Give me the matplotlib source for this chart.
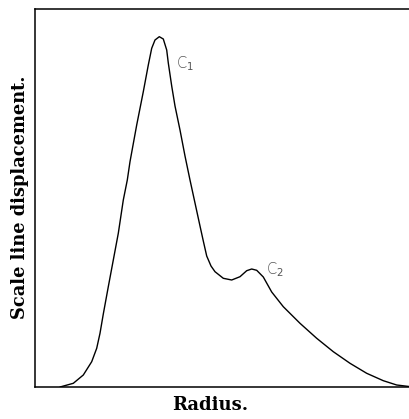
import matplotlib
matplotlib.use("Agg")
import matplotlib.pyplot as plt

# Radius (arbitrary units) and scale line displacement (arbitrary units)
radius = [25, 38.3, 48.3, 56.7, 61.7, 65, 68.3, 73.3, 78.3, 83.3, 88.3, 92.3, 95,
          101.7, 108.3, 113.3, 116.7, 120, 124.3, 128.3, 131.7, 133.3, 136.7, 140,
          145, 150, 155, 160, 165, 168.3, 171.7, 176, 180, 188.3, 196.7, 205, 211.7,
          216.7, 221.7, 228.3, 236.7, 248.3, 265, 281.7, 298.3, 315, 331.7, 348.3,
          361.7, 374]
displacement = [0, 3.7, 12, 25.3, 38.7, 53.7, 73, 100.3, 127, 153.7, 187, 207, 225.3,
                262, 295.3, 322, 338.7, 347, 350.3, 348, 337, 324, 301, 281,
                257, 231, 207, 184, 161, 146, 131, 121, 115.3, 108.7, 107, 110.3, 116.3,
                118, 116.7, 110, 95, 80.3, 63.7, 48.7, 35.3, 23.7, 13.7, 6.3,
                2, 0.5]

labels = ["C$_1$", "C$_2$"]
label_pos = [(141, 323), (231, 117)]

fig = plt.figure(figsize=(4.09, 4.19), dpi=100)
ax = fig.add_axes([35/409, 32/419, 374/409, 378/419])
ax.plot(radius, displacement, color="black", lw=1.0,
        solid_joinstyle="round", solid_capstyle="round")
ax.set_xlim(0, 374)
ax.set_ylim(0, 378)
ax.set_xticks([])
ax.set_yticks([])
ax.spines["right"].set_visible(False)
for s in ["left", "top", "bottom"]:
    ax.spines[s].set_linewidth(1.1)

for lab, (x, y) in zip(labels, label_pos):
    ax.text(x, y, lab, fontsize=10.5, color="#555555", family="DejaVu Sans",
            va="center", ha="left", fontweight="light")

fig.text(210/409, 1 - 405/419, "Radius.", ha="center", va="center",
         family="DejaVu Serif", fontsize=13, fontweight="bold")
fig.text(20/409, 1 - 197/419, "Scale line displacement.", ha="center", va="center",
         rotation=90, family="DejaVu Serif", fontsize=12.8, fontweight="bold")

fig.savefig("out.png", dpi=100)
